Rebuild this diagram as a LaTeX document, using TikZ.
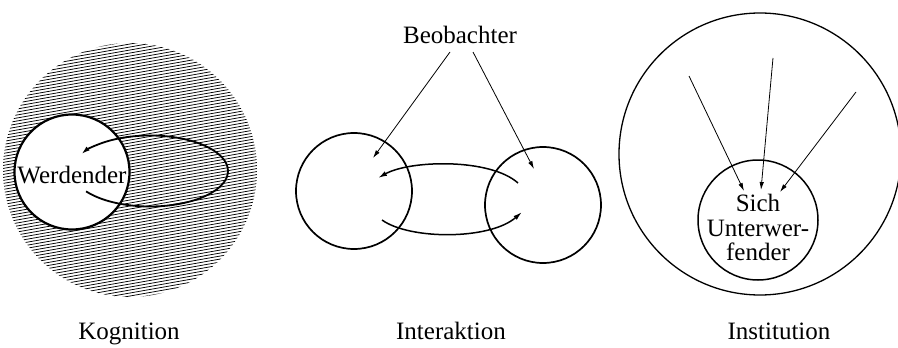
\documentclass[tikz,border=0pt]{standalone}
\usepackage{fontspec}
\setmainfont{Liberation Serif}
\usetikzlibrary{arrows.meta}
\begin{document}
\begin{tikzpicture}[x=1pt,y=-1pt,
  lbl/.style={font=\fontsize{25}{23}\selectfont, inner sep=0pt},
  ring/.style={draw, line width=1.7pt, circle, minimum size=#1, inner sep=0pt},
  arr/.style={-{Latex[length=8pt,width=4.5pt]}, line width=0.8pt},
  flow/.style={-{Latex[length=9pt,width=5pt]}, line width=1.8pt}]
\useasboundingbox[fill=white] (0,0) rectangle (898,348);

% ---------- Kognition ----------
\node[circle, minimum size=254pt, inner sep=0pt] (field) at (130,170) {};
\begin{scope}
  \clip (130,170) circle[radius=127];
  \foreach \i in {-52,...,52}
    \draw[line width=0.75pt] (0,{170+3*\i+23}) -- (260,{170+3*\i-23});
\end{scope}
\node[ring=115pt, fill=white, line width=2.2pt] (werd) at (72,172) {};
\node[lbl, anchor=base] (wtext) at (72,183) {Werdender};
\coordinate (ellc) at (150,171);
\draw[flow] (ellc) ++(145:78 and 35.5) arc[start angle=145, end angle=-152, x radius=78, y radius=35.5];
\node[lbl, anchor=base] (kog) at (129,339) {Kognition};

% ---------- Interaktion ----------
\node[ring=116pt] (L) at (354,191) {};
\node[ring=116pt] (R) at (543,205) {};
\node[lbl, anchor=base] (beob) at (460,43) {Beobachter};
\coordinate (b1) at (450,52);
\coordinate (b2) at (473,52);
\coordinate (tL) at (373,158);
\coordinate (tR) at (534,169);
\draw[arr] (b1) -- (tL);
\draw[arr] (b2) -- (tR);
\coordinate (u1) at (518,183);
\coordinate (u2) at (378,178);
\coordinate (d1) at (382,220);
\coordinate (d2) at (522,212);
\draw[flow, line width=1.5pt] (u1) .. controls (490,158) and (410,160) .. (u2);
\draw[flow, line width=1.5pt] (d1) .. controls (410,240) and (490,240) .. (d2);
\node[lbl, anchor=base] (inter) at (451,339) {Interaktion};

% ---------- Institution ----------
\node[ring=282pt, line width=1.3pt] (inst) at (760,154) {};
\node[ring=120pt, line width=1.5pt] (unt) at (758,220) {};
\node[lbl, anchor=base] (s1) at (758,211) {Sich};
\node[lbl, anchor=base] (s2) at (758,236) {Unterwer-};
\node[lbl, anchor=base] (s3) at (758,260) {fender};
\coordinate (i1) at (689,76);
\coordinate (i2) at (773,58);
\coordinate (i3) at (856,92);
\coordinate (j1) at (744,191);
\coordinate (j2) at (761,190);
\coordinate (j3) at (780,192);
\draw[arr] (i1) -- (j1);
\draw[arr] (i2) -- (j2);
\draw[arr] (i3) -- (j3);
\node[lbl, anchor=base] (instl) at (779,339) {Institution};
\end{tikzpicture}
\end{document}
